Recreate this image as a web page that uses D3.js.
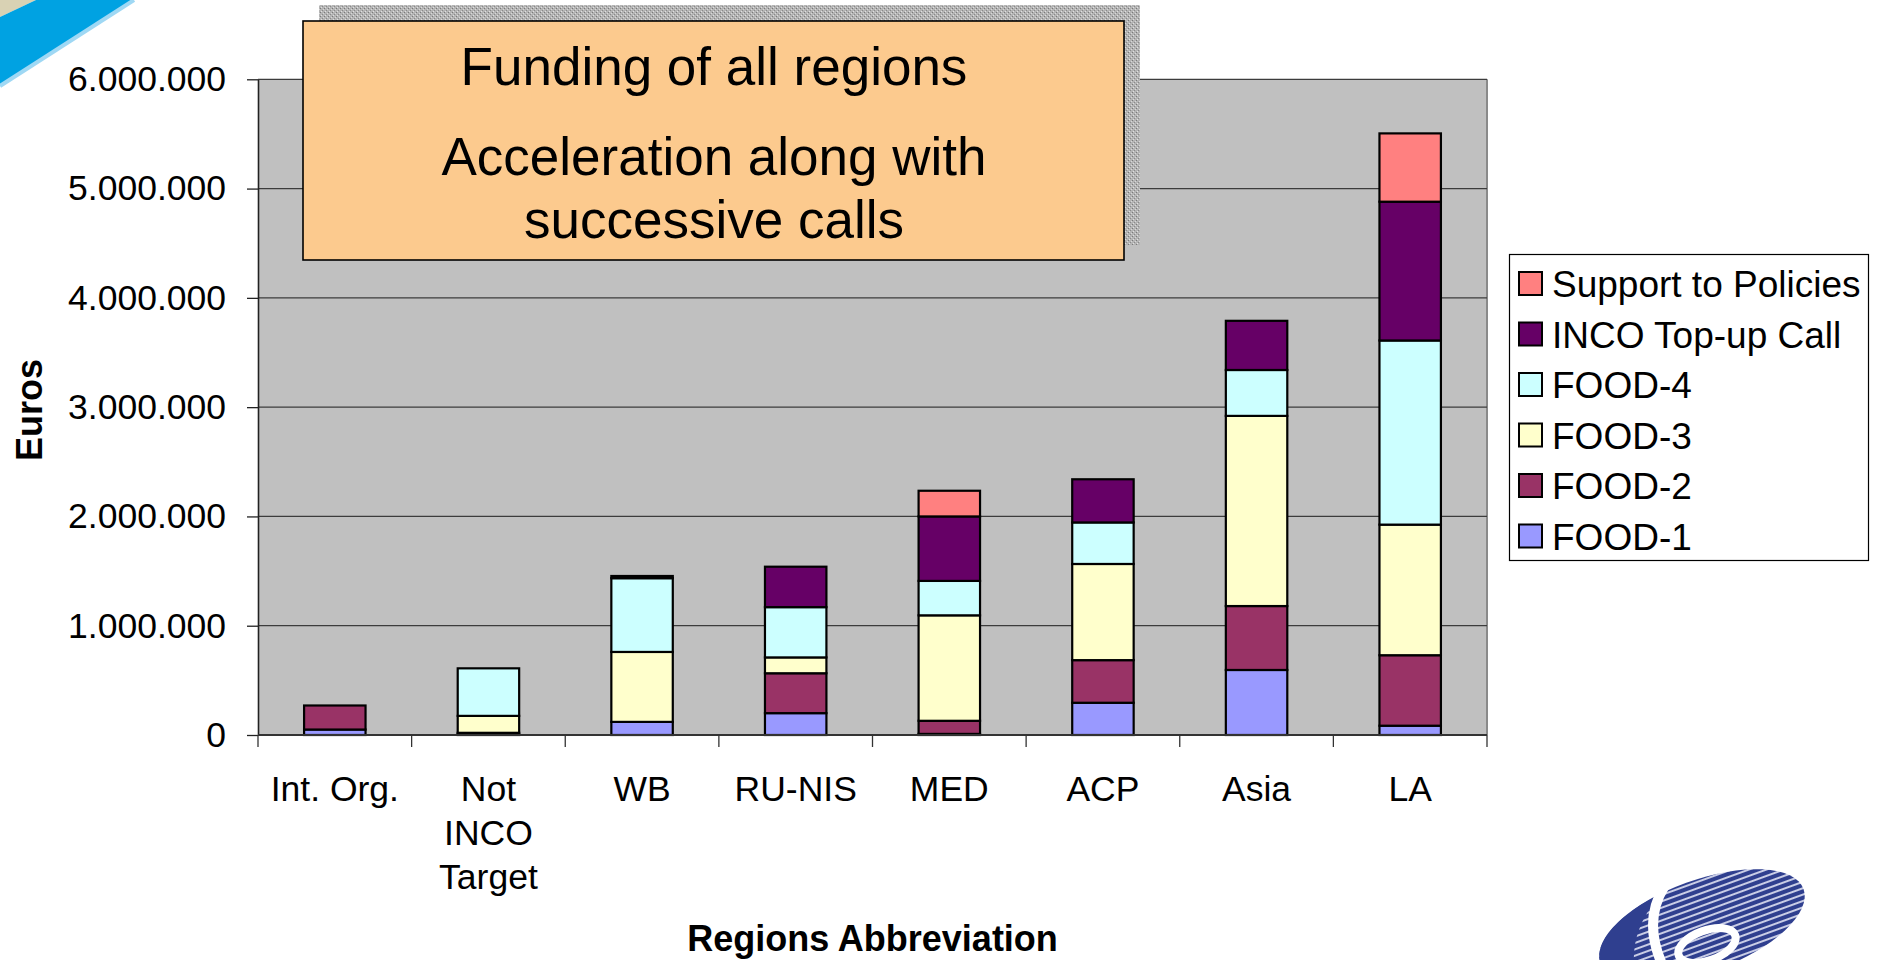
<!DOCTYPE html>
<html>
<head>
<meta charset="utf-8">
<script src="https://cdn.jsdelivr.net/npm/d3@7"></script>
<style>
  html, body { margin: 0; padding: 0; background: #fff; }
  svg { display: block; }
  text { font-family: "Liberation Sans", Arial, sans-serif; }
</style>
</head>
<body>
<div id="chart"></div>
<script>
// Data (euros)
const regions = ["Int. Org.", "Not INCO Target", "WB", "RU-NIS", "MED", "ACP", "Asia", "LA"];
const regionLabels = [["Int. Org."], ["Not", "INCO", "Target"], ["WB"], ["RU-NIS"], ["MED"], ["ACP"], ["Asia"], ["LA"]];
const seriesNames = ["FOOD-1", "FOOD-2", "FOOD-3", "FOOD-4", "INCO Top-up Call", "Support to Policies"];
const seriesColors = ["#9999FF", "#993366", "#FFFFCC", "#CCFFFF", "#660066", "#FF8080"];
const food1 = [50000, 5000, 120000, 200000, 10000, 295000, 595000, 85000];
const food2 = [220000, 15000, 0, 365000, 120000, 390000, 585000, 645000];
const food3 = [0, 155000, 640000, 145000, 965000, 880000, 1740000, 1195000];
const food4 = [0, 435000, 675000, 460000, 315000, 380000, 420000, 1685000];
const incoTopUp = [0, 0, 20000, 370000, 590000, 395000, 450000, 1270000];
const supportPolicies = [0, 0, 0, 0, 235000, 0, 0, 625000];
const yTicks = [0, 1000000, 2000000, 3000000, 4000000, 5000000, 6000000];
const titleLines = ["Funding of all regions", "Acceleration along with", "successive calls"];

const W = 1879, H = 960;
const plot = { left: 258, right: 1487, top: 79.3, bottom: 735 };

const svg = d3.select("#chart").append("svg")
    .attr("width", W)
    .attr("height", H);

const defs = svg.append("defs");

// stippled shadow of the title box
const stip = defs.append("pattern")
    .attr("id", "stipple")
    .attr("patternUnits", "userSpaceOnUse")
    .attr("width", 4).attr("height", 4);
stip.append("rect").attr("width", 4).attr("height", 4).attr("fill", "#b4b4b4");
stip.append("rect").attr("width", 1).attr("height", 1).attr("fill", "#7a7a7a");
stip.append("rect").attr("x", 2).attr("y", 2).attr("width", 1).attr("height", 1).attr("fill", "#8a8a8a");
stip.append("rect").attr("x", 1).attr("y", 3).attr("width", 1).attr("height", 1).attr("fill", "#e0e0e0");
stip.append("rect").attr("x", 3).attr("y", 1).attr("width", 1).attr("height", 1).attr("fill", "#d8d8d8");

// striped logo fill
const stripes = defs.append("pattern")
    .attr("id", "stripes")
    .attr("patternUnits", "userSpaceOnUse")
    .attr("width", 8).attr("height", 6);
stripes.append("rect").attr("width", 8).attr("height", 6).attr("fill", "#c9cde6");
stripes.append("rect").attr("width", 8).attr("height", 4).attr("fill", "#2f3f8f");

// Top-left decoration (corner swoosh)
svg.append("path")
    .attr("d", "M0,0 L36,0 L0,17 Z")
    .attr("fill", "#d9d2b4");
svg.append("path")
    .attr("d", "M36,0 L134,0 L0,86 L0,17 Z")
    .attr("fill", "#00a2e2");
svg.append("path")
    .attr("d", "M134,0 L0,86")
    .attr("stroke", "#9fd8f4")
    .attr("stroke-width", 4)
    .attr("fill", "none");

// Scales
const x = d3.scaleBand()
    .domain(regions)
    .range([plot.left, plot.right])
    .paddingInner(0.6)
    .paddingOuter(0.3);

const y = d3.scaleLinear()
    .domain([0, 6000000])
    .range([plot.bottom, plot.top]);

// Plot area
svg.append("rect")
    .attr("x", plot.left)
    .attr("y", plot.top)
    .attr("width", plot.right - plot.left)
    .attr("height", plot.bottom - plot.top)
    .attr("fill", "#c0c0c0");

// right border
svg.append("line")
    .attr("x1", plot.right).attr("x2", plot.right)
    .attr("y1", plot.top).attr("y2", plot.bottom)
    .attr("stroke", "#8a8a8a")
    .attr("stroke-width", 2);

// Gridlines
svg.append("g")
    .selectAll("line")
    .data(yTicks.filter(d => d > 0))
    .join("line")
    .attr("x1", plot.left).attr("x2", plot.right)
    .attr("y1", d => y(d)).attr("y2", d => y(d))
    .attr("stroke", "#3c3c3c")
    .attr("stroke-width", 1.3);

// Stack
const table = regions.map((r, i) => ({
    region: r,
    "FOOD-1": food1[i],
    "FOOD-2": food2[i],
    "FOOD-3": food3[i],
    "FOOD-4": food4[i],
    "INCO Top-up Call": incoTopUp[i],
    "Support to Policies": supportPolicies[i]
}));

const stacked = d3.stack().keys(seriesNames)(table);

svg.append("g")
    .selectAll("g")
    .data(stacked)
    .join("g")
    .attr("fill", (d, i) => seriesColors[i])
    .selectAll("rect")
    .data(d => d.filter(s => s[1] - s[0] > 0))
    .join("rect")
    .attr("x", d => x(d.data.region))
    .attr("width", x.bandwidth())
    .attr("y", d => y(d[1]))
    .attr("height", d => y(d[0]) - y(d[1]))
    .attr("stroke", "#000")
    .attr("stroke-width", 2.2);

// Y axis
const yAxis = svg.append("g")
    .attr("transform", `translate(${plot.left},0)`)
    .call(d3.axisLeft(y)
        .tickValues(yTicks)
        .tickSize(11)
        .tickSizeOuter(0)
        .tickPadding(21)
        .tickFormat(d => d3.format(",")(d).replace(/,/g, ".")));
yAxis.select(".domain").attr("stroke", "#222").attr("stroke-width", 1.6);
yAxis.selectAll(".tick line").attr("stroke", "#222").attr("stroke-width", 1.3);
yAxis.selectAll(".tick text")
    .attr("font-family", "'Liberation Sans', Arial, sans-serif")
    .attr("font-size", 35.5)
    .attr("fill", "#000");

// X axis (ticks between categories)
svg.append("line")
    .attr("x1", plot.left).attr("x2", plot.right)
    .attr("y1", plot.bottom).attr("y2", plot.bottom)
    .attr("stroke", "#333")
    .attr("stroke-width", 2);

svg.append("g")
    .selectAll("line")
    .data(d3.range(regions.length + 1))
    .join("line")
    .attr("x1", i => plot.left + i * x.step())
    .attr("x2", i => plot.left + i * x.step())
    .attr("y1", plot.bottom)
    .attr("y2", plot.bottom + 12)
    .attr("stroke", "#333")
    .attr("stroke-width", 1.3);

const xLabels = svg.append("g")
    .selectAll("text")
    .data(regions)
    .join("text")
    .attr("x", d => x(d) + x.bandwidth() / 2)
    .attr("y", 801)
    .attr("text-anchor", "middle")
    .attr("font-size", 35.5)
    .attr("fill", "#000");

xLabels.selectAll("tspan")
    .data((d, i) => regionLabels[i])
    .join("tspan")
    .attr("x", function () { return d3.select(this.parentNode).attr("x"); })
    .attr("dy", (d, i) => i === 0 ? 0 : 44)
    .text(d => d);

// Axis titles
svg.append("text")
    .attr("transform", "translate(42,410) rotate(-90)")
    .attr("text-anchor", "middle")
    .attr("font-size", 36)
    .attr("font-weight", "bold")
    .text("Euros");

svg.append("text")
    .attr("x", (plot.left + plot.right) / 2)
    .attr("y", 951)
    .attr("text-anchor", "middle")
    .attr("font-size", 36)
    .attr("font-weight", "bold")
    .text("Regions Abbreviation");

// Legend
const legend = svg.append("g");
legend.append("rect")
    .attr("x", 1509.5).attr("y", 254.5)
    .attr("width", 359).attr("height", 306)
    .attr("fill", "#fff")
    .attr("stroke", "#000")
    .attr("stroke-width", 1.2);

const legendOrder = seriesNames.map((n, i) => i).reverse();
const legendItems = legend.selectAll("g.item")
    .data(legendOrder)
    .join("g")
    .attr("class", "item")
    .attr("transform", (d, k) => `translate(1519,${284 + k * 50.5})`);

legendItems.append("rect")
    .attr("x", 0).attr("y", -12)
    .attr("width", 23).attr("height", 23)
    .attr("fill", i => seriesColors[i])
    .attr("stroke", "#000")
    .attr("stroke-width", 2);

legendItems.append("text")
    .attr("x", 33)
    .attr("y", 13)
    .attr("font-size", 37)
    .attr("fill", "#000")
    .text(i => seriesNames[i]);

// Title box with shadow
svg.append("rect")
    .attr("x", 319).attr("y", 5)
    .attr("width", 821).attr("height", 240)
    .attr("fill", "url(#stipple)");

svg.append("rect")
    .attr("x", 303).attr("y", 21)
    .attr("width", 821).attr("height", 239)
    .attr("fill", "#fcca8e")
    .attr("stroke", "#000")
    .attr("stroke-width", 1.6);

svg.append("g")
    .selectAll("text")
    .data(titleLines)
    .join("text")
    .attr("x", 714)
    .attr("y", (d, i) => [85, 175, 238][i])
    .attr("text-anchor", "middle")
    .attr("font-size", 53)
    .attr("fill", "#000")
    .text(d => d);

// Bottom-right logo (approximation)
const logo = svg.append("g").attr("transform", "translate(1702,926) rotate(-20)");
logo.append("ellipse")
    .attr("rx", 108).attr("ry", 46)
    .attr("fill", "url(#stripes)");
logo.append("path")
    .attr("d", "M-108,0 A108,46 0 0,1 -25,-45 Q-72,-22 -80,25 Z")
    .attr("fill", "#2f3f8f");
logo.append("path")
    .attr("d", "M-22,-50 Q-60,-20 -48,42")
    .attr("fill", "none")
    .attr("stroke", "#fff")
    .attr("stroke-width", 10);
logo.append("ellipse")
    .attr("cx", -2).attr("cy", 20)
    .attr("rx", 30).attr("ry", 15)
    .attr("fill", "none")
    .attr("stroke", "#fff")
    .attr("stroke-width", 8);
</script>
</body>
</html>
